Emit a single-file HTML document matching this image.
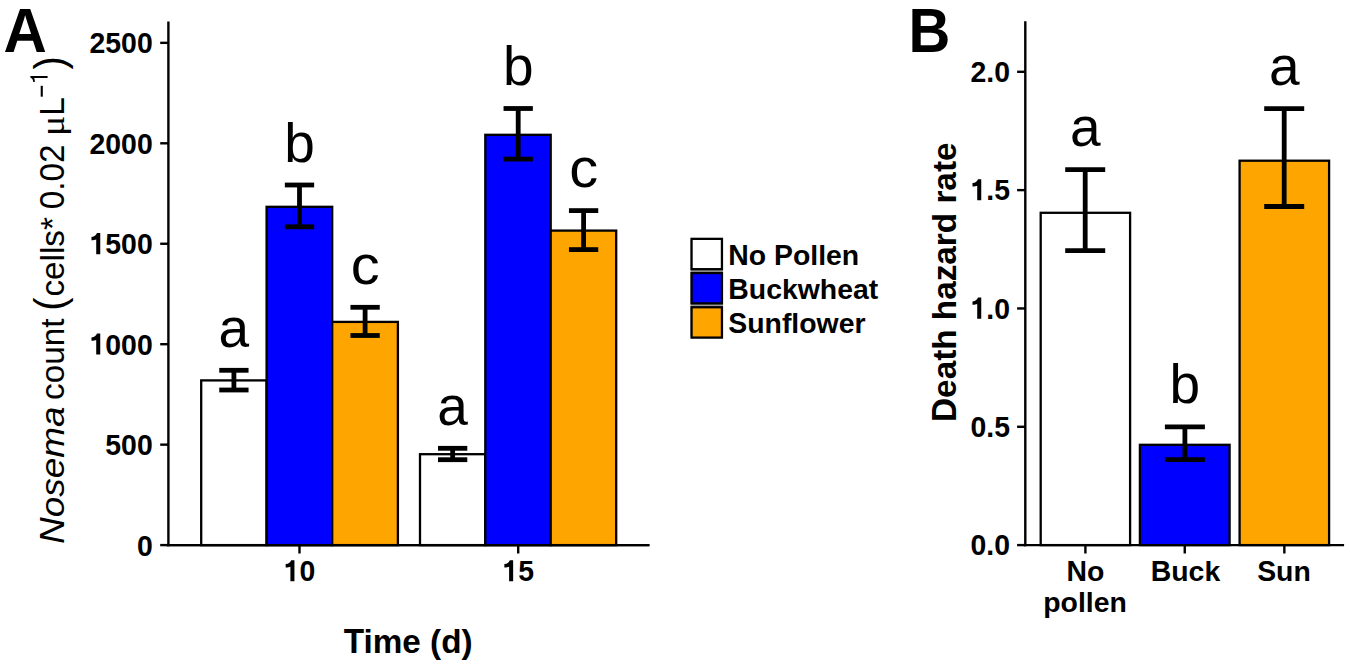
<!DOCTYPE html>
<html><head><meta charset="utf-8"><style>
html,body{margin:0;padding:0;background:#fff;width:1350px;height:666px;overflow:hidden}
svg{display:block}
text{font-family:"Liberation Sans",sans-serif;fill:#000}
.tk{font-size:28.4px;font-weight:bold}
.let{font-size:55px}
.tt{font-size:33.3px;font-weight:bold}
.yl{font-size:33.3px}
.pl{font-size:60px;font-weight:bold}
</style></head><body>
<svg width="1350" height="666" viewBox="0 0 1350 666">
<line x1="168.4" y1="21.4" x2="168.4" y2="546.3000000000001" stroke="#000" stroke-width="2.4"/>
<line x1="167.20000000000002" y1="545.1" x2="649.4" y2="545.1" stroke="#000" stroke-width="2.4"/>
<line x1="160.2" y1="545.10" x2="168.4" y2="545.10" stroke="#000" stroke-width="2.4"/>
<text transform="translate(136.91,555.50) scale(1.0,1.05)" class="tk">0</text>
<line x1="160.2" y1="444.65" x2="168.4" y2="444.65" stroke="#000" stroke-width="2.4"/>
<text transform="translate(105.32,455.05) scale(1.0,1.05)" class="tk">500</text>
<line x1="160.2" y1="344.20" x2="168.4" y2="344.20" stroke="#000" stroke-width="2.4"/>
<text transform="translate(89.52,354.60) scale(1.0,1.05)" class="tk"> 000</text>
<path transform="translate(89.52,354.60) scale(0.02840,-0.02982)" d="M236,0H378V710H262C245,650 180,590 69,577V463C140,468 200,480 236,492Z"/>
<line x1="160.2" y1="243.75" x2="168.4" y2="243.75" stroke="#000" stroke-width="2.4"/>
<text transform="translate(89.52,254.15) scale(1.0,1.05)" class="tk"> 500</text>
<path transform="translate(89.52,254.15) scale(0.02840,-0.02982)" d="M236,0H378V710H262C245,650 180,590 69,577V463C140,468 200,480 236,492Z"/>
<line x1="160.2" y1="143.30" x2="168.4" y2="143.30" stroke="#000" stroke-width="2.4"/>
<text transform="translate(89.52,153.70) scale(1.0,1.05)" class="tk">2000</text>
<line x1="160.2" y1="42.85" x2="168.4" y2="42.85" stroke="#000" stroke-width="2.4"/>
<text transform="translate(89.52,53.25) scale(1.0,1.05)" class="tk">2500</text>
<line x1="299.5" y1="545.1" x2="299.5" y2="553.5" stroke="#000" stroke-width="2.4"/>
<text transform="translate(283.71,581.30) scale(1.0,1.05)" class="tk"> 0</text>
<path transform="translate(283.71,581.30) scale(0.02840,-0.02982)" d="M236,0H378V710H262C245,650 180,590 69,577V463C140,468 200,480 236,492Z"/>
<line x1="518.2" y1="545.1" x2="518.2" y2="553.5" stroke="#000" stroke-width="2.4"/>
<text transform="translate(502.41,581.30) scale(1.0,1.05)" class="tk"> 5</text>
<path transform="translate(502.41,581.30) scale(0.02840,-0.02982)" d="M236,0H378V710H262C245,650 180,590 69,577V463C140,468 200,480 236,492Z"/>
<rect x="201.2" y="380.4" width="65.40" height="164.70" fill="#fff" stroke="#000" stroke-width="2.3"/>
<rect x="266.6" y="206.8" width="65.60" height="338.30" fill="#00f" stroke="#000" stroke-width="2.3"/>
<rect x="332.2" y="321.9" width="65.70" height="223.20" fill="#ffa500" stroke="#000" stroke-width="2.3"/>
<rect x="420.0" y="454.2" width="65.30" height="90.90" fill="#fff" stroke="#000" stroke-width="2.3"/>
<rect x="485.3" y="134.8" width="65.40" height="410.30" fill="#00f" stroke="#000" stroke-width="2.3"/>
<rect x="550.7" y="230.6" width="65.50" height="314.50" fill="#ffa500" stroke="#000" stroke-width="2.3"/>
<line x1="233.9" y1="370.3" x2="233.9" y2="390.0" stroke="#000" stroke-width="4.8"/>
<line x1="219.25" y1="370.3" x2="248.55" y2="370.3" stroke="#000" stroke-width="4.8"/>
<line x1="219.25" y1="390.0" x2="248.55" y2="390.0" stroke="#000" stroke-width="4.8"/>
<text transform="translate(233.90,346.80)" class="let" text-anchor="middle">a</text>
<line x1="299.5" y1="185.0" x2="299.5" y2="226.8" stroke="#000" stroke-width="4.8"/>
<line x1="284.85" y1="185.0" x2="314.15" y2="185.0" stroke="#000" stroke-width="4.8"/>
<line x1="284.85" y1="226.8" x2="314.15" y2="226.8" stroke="#000" stroke-width="4.8"/>
<text transform="translate(299.50,161.50)" class="let" text-anchor="middle">b</text>
<line x1="365.1" y1="307.3" x2="365.1" y2="335.5" stroke="#000" stroke-width="4.8"/>
<line x1="350.45" y1="307.3" x2="379.75" y2="307.3" stroke="#000" stroke-width="4.8"/>
<line x1="350.45" y1="335.5" x2="379.75" y2="335.5" stroke="#000" stroke-width="4.8"/>
<text transform="translate(365.10,283.80) scale(1.05,1.0)" class="let" text-anchor="middle">c</text>
<line x1="452.65" y1="448.3" x2="452.65" y2="459.7" stroke="#000" stroke-width="4.8"/>
<line x1="438.00" y1="448.3" x2="467.30" y2="448.3" stroke="#000" stroke-width="4.8"/>
<line x1="438.00" y1="459.7" x2="467.30" y2="459.7" stroke="#000" stroke-width="4.8"/>
<text transform="translate(452.65,424.80)" class="let" text-anchor="middle">a</text>
<line x1="518.2" y1="108.5" x2="518.2" y2="159.1" stroke="#000" stroke-width="4.8"/>
<line x1="503.55" y1="108.5" x2="532.85" y2="108.5" stroke="#000" stroke-width="4.8"/>
<line x1="503.55" y1="159.1" x2="532.85" y2="159.1" stroke="#000" stroke-width="4.8"/>
<text transform="translate(518.20,85.00)" class="let" text-anchor="middle">b</text>
<line x1="583.6" y1="210.6" x2="583.6" y2="249.6" stroke="#000" stroke-width="4.8"/>
<line x1="568.95" y1="210.6" x2="598.25" y2="210.6" stroke="#000" stroke-width="4.8"/>
<line x1="568.95" y1="249.6" x2="598.25" y2="249.6" stroke="#000" stroke-width="4.8"/>
<text transform="translate(583.60,187.10) scale(1.05,1.0)" class="let" text-anchor="middle">c</text>
<line x1="167.20000000000002" y1="545.1" x2="649.4" y2="545.1" stroke="#000" stroke-width="2.4"/>
<text transform="translate(3.50,51.80) scale(1.0,1.05)" class="pl">A</text>
<text transform="translate(343.75,652.80) scale(1.0,1.05)" class="tt">T</text>
<text transform="translate(363.49,652.80)" class="tt">ime (d)</text>
<text transform="translate(64.20,543.90) rotate(-90) scale(1.11,1.05)" class="yl" style="font-size:33.3px;font-style:italic;">N</text>
<text transform="translate(64.20,517.23) rotate(-90) scale(1.11,1.0)" class="yl" style="font-size:33.3px;font-style:italic;">osema</text>
<text transform="translate(64.20,400.00) rotate(-90) scale(1.0,1.0)" class="yl" style="font-size:33.3px;">count</text>
<text transform="translate(64.20,310.80) rotate(-90) scale(1.0,1.05)" class="yl" style="font-size:40px;">(</text>
<text transform="translate(64.20,296.60) rotate(-90) scale(1.0,1.0)" class="yl" style="font-size:33.3px;">cells*</text>
<text transform="translate(64.20,209.30) rotate(-90) scale(1.0,1.05)" class="yl" style="font-size:33.3px;">0.02</text>
<text transform="translate(64.2,136.1) rotate(-90) scale(1.14,1.0)" style="font-family:'Liberation Serif',serif;font-size:33.3px">μ</text>
<text transform="translate(64.20,115.80) rotate(-90) scale(1.0,1.05)" class="yl" style="font-size:33.3px;">L</text>
<rect x="40.7" y="85.8" width="2.1" height="10.9" fill="#000"/>
<path transform="translate(47.6,84.4) rotate(-90) scale(0.02330,-0.02447)" d="M271,0H359V703H289C272,640 215,592 101,585V519C170,522 230,532 271,548Z"/>
<text transform="translate(64.20,69.60) rotate(-90) scale(1.0,1.05)" class="yl" style="font-size:40px;">)</text>
<rect x="690.6" y="240" width="32.3" height="96" fill="#9a9a9a"/>
<rect x="691.55" y="238.85" width="30.4" height="30.35" fill="#fff" stroke="#000" stroke-width="2.3"/>
<text transform="translate(728.30,264.60) scale(1.0,1.05)" class="tk">N</text>
<text transform="translate(748.80,264.60)" class="tk">o </text>
<text transform="translate(774.02,264.60) scale(1.0,1.05)" class="tk">P</text>
<text transform="translate(792.96,264.60)" class="tk">ollen</text>
<rect x="691.55" y="273.05" width="30.4" height="30.35" fill="#00f" stroke="#000" stroke-width="2.3"/>
<text transform="translate(728.30,298.80) scale(1.0,1.05)" class="tk">B</text>
<text transform="translate(748.80,298.80)" class="tk">uckwheat</text>
<rect x="691.55" y="307.25" width="30.4" height="30.35" fill="#ffa500" stroke="#000" stroke-width="2.3"/>
<text transform="translate(728.30,333.00) scale(1.0,1.05)" class="tk">S</text>
<text transform="translate(747.22,333.00)" class="tk">unflower</text>
<line x1="1025.3" y1="21.3" x2="1025.3" y2="546.3000000000001" stroke="#000" stroke-width="2.4"/>
<line x1="1017.1" y1="545.10" x2="1025.3" y2="545.10" stroke="#000" stroke-width="2.4"/>
<text transform="translate(970.52,555.30) scale(1.0,1.05)" class="tk">0.0</text>
<line x1="1017.1" y1="426.78" x2="1025.3" y2="426.78" stroke="#000" stroke-width="2.4"/>
<text transform="translate(970.52,436.98) scale(1.0,1.05)" class="tk">0.5</text>
<line x1="1017.1" y1="308.45" x2="1025.3" y2="308.45" stroke="#000" stroke-width="2.4"/>
<text transform="translate(970.52,318.65) scale(1.0,1.05)" class="tk"> .0</text>
<path transform="translate(970.52,318.65) scale(0.02840,-0.02982)" d="M236,0H378V710H262C245,650 180,590 69,577V463C140,468 200,480 236,492Z"/>
<line x1="1017.1" y1="190.12" x2="1025.3" y2="190.12" stroke="#000" stroke-width="2.4"/>
<text transform="translate(970.52,200.32) scale(1.0,1.05)" class="tk"> .5</text>
<path transform="translate(970.52,200.32) scale(0.02840,-0.02982)" d="M236,0H378V710H262C245,650 180,590 69,577V463C140,468 200,480 236,492Z"/>
<line x1="1017.1" y1="71.80" x2="1025.3" y2="71.80" stroke="#000" stroke-width="2.4"/>
<text transform="translate(970.52,82.00) scale(1.0,1.05)" class="tk">2.0</text>
<line x1="1085.4" y1="545.1" x2="1085.4" y2="553.5" stroke="#000" stroke-width="2.4"/>
<line x1="1184.75" y1="545.1" x2="1184.75" y2="553.5" stroke="#000" stroke-width="2.4"/>
<line x1="1284.35" y1="545.1" x2="1284.35" y2="553.5" stroke="#000" stroke-width="2.4"/>
<rect x="1040.7" y="212.8" width="89.40" height="332.30" fill="#fff" stroke="#000" stroke-width="2.3"/>
<rect x="1139.9" y="444.8" width="89.70" height="100.30" fill="#00f" stroke="#000" stroke-width="2.3"/>
<rect x="1239.6" y="160.7" width="89.50" height="384.40" fill="#ffa500" stroke="#000" stroke-width="2.3"/>
<line x1="1085.2" y1="169.6" x2="1085.2" y2="250.7" stroke="#000" stroke-width="4.8"/>
<line x1="1065.20" y1="169.6" x2="1105.20" y2="169.6" stroke="#000" stroke-width="4.8"/>
<line x1="1065.20" y1="250.7" x2="1105.20" y2="250.7" stroke="#000" stroke-width="4.8"/>
<text transform="translate(1085.20,146.10)" class="let" text-anchor="middle">a</text>
<line x1="1184.9" y1="426.8" x2="1184.9" y2="459.7" stroke="#000" stroke-width="4.8"/>
<line x1="1164.90" y1="426.8" x2="1204.90" y2="426.8" stroke="#000" stroke-width="4.8"/>
<line x1="1164.90" y1="459.7" x2="1204.90" y2="459.7" stroke="#000" stroke-width="4.8"/>
<text transform="translate(1184.90,403.30)" class="let" text-anchor="middle">b</text>
<line x1="1284.2" y1="108.6" x2="1284.2" y2="206.5" stroke="#000" stroke-width="4.8"/>
<line x1="1264.20" y1="108.6" x2="1304.20" y2="108.6" stroke="#000" stroke-width="4.8"/>
<line x1="1264.20" y1="206.5" x2="1304.20" y2="206.5" stroke="#000" stroke-width="4.8"/>
<text transform="translate(1284.20,85.10)" class="let" text-anchor="middle">a</text>
<line x1="1024.1" y1="545.1" x2="1344.1" y2="545.1" stroke="#000" stroke-width="2.4"/>
<text transform="translate(1066.57,581.10) scale(1.0,1.05)" class="tk">N</text>
<text transform="translate(1087.07,581.10)" class="tk">o</text>
<text transform="translate(1043.20,611.80)" class="tk">pollen</text>
<text transform="translate(1150.78,581.10) scale(1.0,1.05)" class="tk">B</text>
<text transform="translate(1171.28,581.10)" class="tk">uck</text>
<text transform="translate(1257.19,581.10) scale(1.0,1.05)" class="tk">S</text>
<text transform="translate(1276.11,581.10)" class="tk">un</text>
<text transform="translate(908.50,51.80) scale(0.965,1.05)" class="pl">B</text>
<text transform="translate(956.20,421.91) rotate(-90) scale(1.0,1.05)" class="tt">D</text>
<text transform="translate(956.20,397.88) rotate(-90)" class="tt">eath hazard rate</text>
</svg>
</body></html>
